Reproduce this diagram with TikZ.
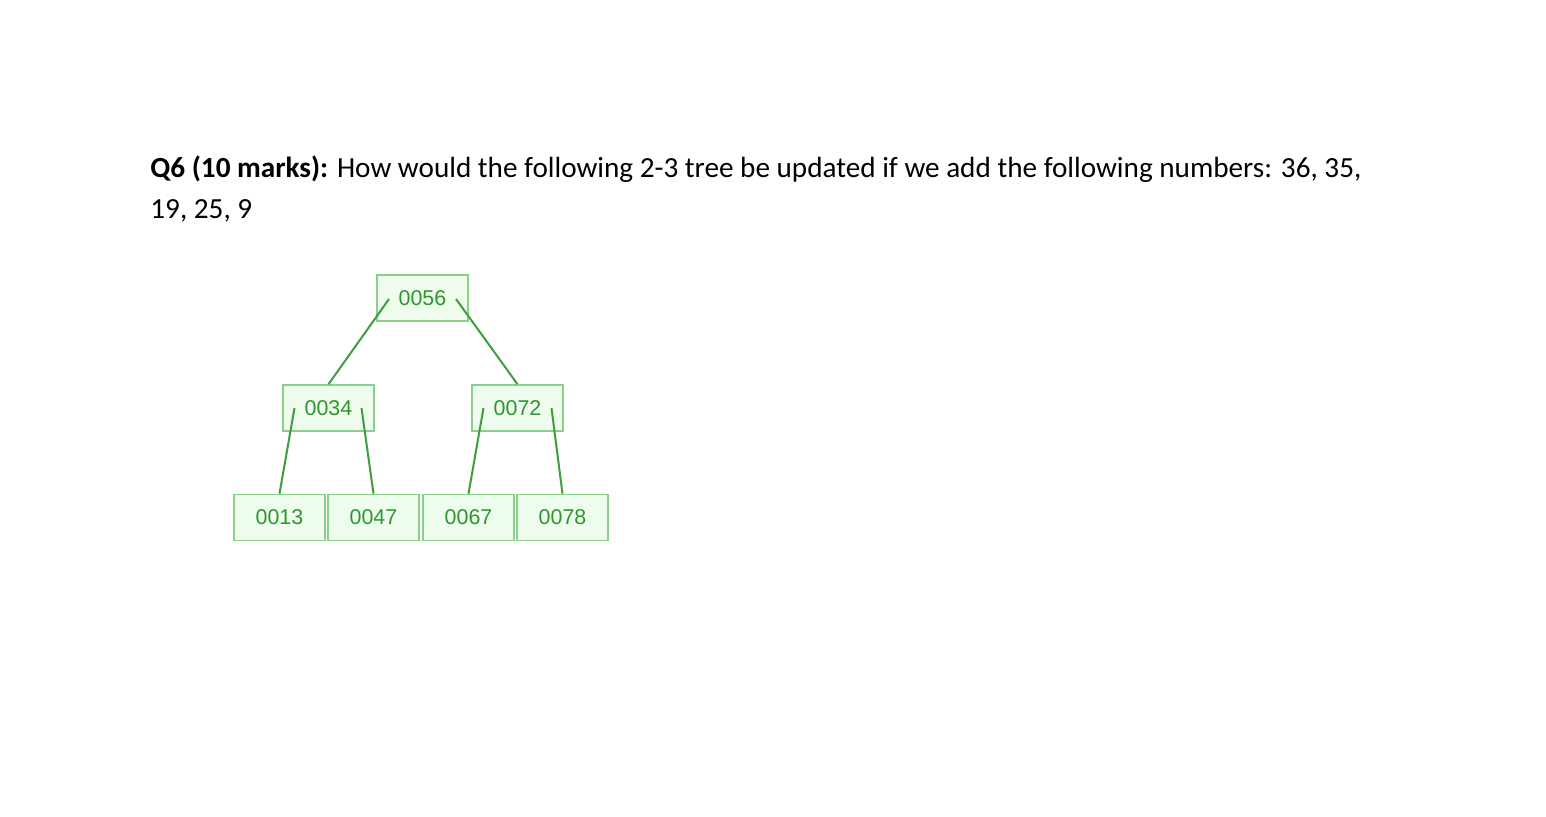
\documentclass[tikz,border=0pt]{standalone}
\usepackage{fontspec}
\setmainfont{Carlito}
\setsansfont{Liberation Sans}
\definecolor{boxfill}{HTML}{EEFCEE}
\definecolor{boxline}{HTML}{8CCF8C}
\definecolor{boxtext}{HTML}{2E962E}
\definecolor{edge}{HTML}{3E9E3E}
\begin{document}
\begin{tikzpicture}[x=0.5pt,y=-0.5pt,
  keybox/.style={draw=boxline,fill=boxfill,line width=0.8pt,minimum width=45.5pt,minimum height=23pt,inner sep=0pt,
    text=boxtext,font=\sffamily\fontsize{10.7}{12}\selectfont},
  treeedge/.style={draw=edge,line width=1pt}]
\useasboundingbox (0,0) rectangle (1546,816);
\fill[white] (0,0) rectangle (1546,816);
\node[anchor=base west,inner sep=0pt,font=\fontsize{14.6}{18}\selectfont] (q1) at (150,177)
  {\textbf{Q6 (10 marks):} How would the following 2-3 tree be updated if we add the following numbers: 36, 35,};
\node[anchor=base west,inner sep=0pt,font=\fontsize{14.6}{18}\selectfont] (q2) at (150,218) {19, 25, 9};
% nodes
\node[keybox] (r) at (422.5,298) {0056};
\node[keybox] (a) at (328.5,408) {0034};
\node[keybox] (b) at (517.5,408) {0072};
\node[keybox] (l1) at (279.5,517.5) {0013};
\node[keybox] (l2) at (373.5,517.5) {0047};
\node[keybox] (l3) at (468.5,517.5) {0067};
\node[keybox] (l4) at (562.5,517.5) {0078};
% edges
\draw[treeedge] ([xshift=-16.75pt,yshift=-0.5pt]r.center) -- (a.north);
\draw[treeedge] ([xshift=16.75pt,yshift=-0.5pt]r.center) -- (b.north);
\draw[treeedge] ([xshift=-17pt]a.center) -- (l1.north);
\draw[treeedge] ([xshift=16.5pt]a.center) -- (l2.north);
\draw[treeedge] ([xshift=-17pt]b.center) -- (l3.north);
\draw[treeedge] ([xshift=17pt]b.center) -- (l4.north);
\end{tikzpicture}
\end{document}
